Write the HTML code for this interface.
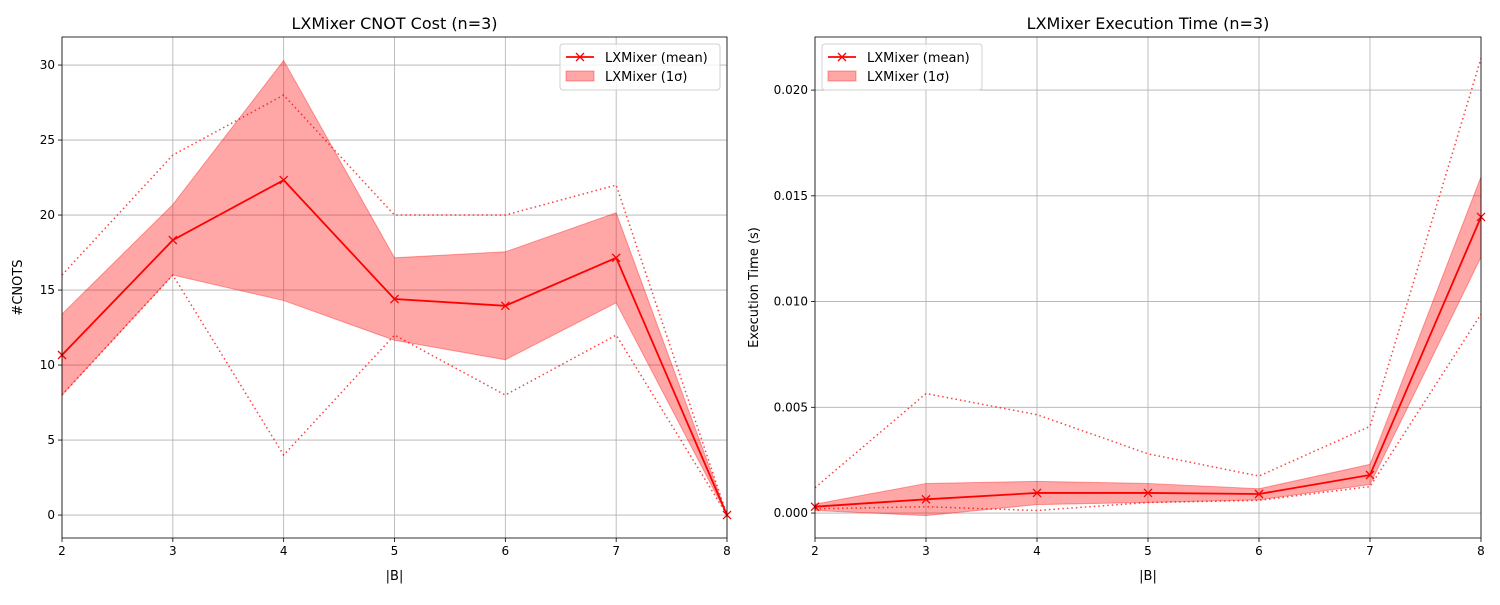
<!DOCTYPE html>
<html><head><meta charset="utf-8"><style>
body{margin:0;background:#fff;width:1500px;height:600px;overflow:hidden}
svg{font-family:"DejaVu Sans","Liberation Sans",sans-serif}
</style></head><body>
<svg id="c" width="1500" height="600"></svg>
<script>
const xCats=[2,3,4,5,6,7,8];
const cnotMean=[10.67,18.33,22.33,14.4,13.95,17.15,0];
const cnotMax=[16,24,28,20,20,22,0];
const cnotMin=[8,16,4,12,8,12,0];
const cnotHi=[13.4,20.7,30.3,17.15,17.55,20.15,0];
const cnotLo=[8,16,14.3,11.65,10.35,14.15,0];
const cnotTicks=[0,5,10,15,20,25,30];
const timeMean=[0.0003,0.00065,0.00095,0.00095,0.0009,0.0018,0.014];
const timeMax=[0.0012,0.00565,0.00465,0.0028,0.00175,0.0041,0.0215];
const timeMin=[0.0002,0.0003,0.00012,0.0005,0.0006,0.00125,0.0094];
const timeHi=[0.00042,0.0014,0.0015,0.0014,0.00115,0.0023,0.0159];
const timeLo=[0.00012,-0.00012,0.0004,0.0005,0.00062,0.00135,0.0121];
const timeTicks=[0,0.005,0.010,0.015,0.020];
const timeTickLabels=["0.000","0.005","0.010","0.015","0.020"];

const svg=document.getElementById('c');
const NS='http://www.w3.org/2000/svg';
function mk(tag,attrs,parent,text){const e=document.createElementNS(NS,tag);for(const k in attrs)e.setAttribute(k,attrs[k]);if(text!==undefined)e.textContent=text;(parent||svg).appendChild(e);return e;}

function panel(p){
  const g=mk('g',{});
  
  
  const X=v=>p.x0+(v-2)/6*(p.x1-p.x0);
  const Y=v=>p.yb-(v-p.ymin)/(p.ymax-p.ymin)*(p.yb-p.yt);
  xCats.forEach(v=>{const l=mk('line',{x1:X(v),x2:X(v),y1:p.yt,y2:p.yb,stroke:'#b0b0b0','stroke-width':0.8},g);
    
    mk('line',{x1:X(v),x2:X(v),y1:p.yb,y2:p.yb+4,stroke:'#000','stroke-width':0.8},g);
    const t=mk('text',{x:X(v),y:p.yb+17,'font-size':12,'text-anchor':'middle'},g,String(v));
    });
  p.ticks.forEach((v,i)=>{const l=mk('line',{x1:p.x0,x2:p.x1,y1:Y(v),y2:Y(v),stroke:'#b0b0b0','stroke-width':0.8},g);
    
    mk('line',{x1:p.x0-4,x2:p.x0,y1:Y(v),y2:Y(v),stroke:'#000','stroke-width':0.8},g);
    const t=mk('text',{x:p.x0-7,y:Y(v)+4,'font-size':12,'text-anchor':'end'},g,p.tickLabels[i]);
    });
  let d='M'+xCats.map((v,i)=>X(v)+','+Y(p.hi[i])).join('L')+'L'+xCats.slice().reverse().map((v,j)=>{const i=xCats.length-1-j;return X(v)+','+Y(p.lo[i]);}).join('L')+'Z';
  const band=mk('path',{d:d,fill:'#ff0000','fill-opacity':0.35,stroke:'#ff0000','stroke-opacity':0.35},g);
  
  [p.mx,p.mn].forEach((arr,k)=>{const l=mk('polyline',{points:xCats.map((v,i)=>X(v)+','+Y(arr[i])).join(' '),fill:'none',stroke:'#ff0000','stroke-opacity':0.75,'stroke-width':1.5,'stroke-dasharray':'1.5,3'},g);
    });
  const ml=mk('polyline',{points:xCats.map((v,i)=>X(v)+','+Y(p.mean[i])).join(' '),fill:'none',stroke:'#ff0000','stroke-width':1.8},g);
  
  xCats.forEach((v,i)=>{const cx=X(v),cy=Y(p.mean[i]);
    const m=mk('path',{d:`M${cx-4},${cy-4}L${cx+4},${cy+4}M${cx-4},${cy+4}L${cx+4},${cy-4}`,stroke:'#ff0000','stroke-width':1.3},g);
    });
  mk('rect',{x:p.x0,y:p.yt,width:p.x1-p.x0,height:p.yb-p.yt,fill:'none',stroke:'#000','stroke-width':0.8},g);
  const tt=mk('text',{x:(p.x0+p.x1)/2,y:p.yt-8,'font-size':16,'text-anchor':'middle'},g,p.title);
  
  const xl=mk('text',{x:(p.x0+p.x1)/2,y:p.yb+42,'font-size':13,'text-anchor':'middle'},g,'|B|');
  
  const yx=p.x0-p.ylOff;
  const yl=mk('text',{x:yx,y:(p.yt+p.yb)/2,'font-size':13,'text-anchor':'middle',transform:`rotate(-90 ${yx} ${(p.yt+p.yb)/2})`},g,p.ylabel);
  
  const lg=mk('g',{},g);
  
  const lx=p.legX,ly=p.yt+7;
  mk('rect',{x:lx,y:ly,width:160,height:46,rx:3,fill:'#fff','fill-opacity':0.8,stroke:'#d0d0d0'},lg);
  mk('line',{x1:lx+6,x2:lx+34,y1:ly+13,y2:ly+13,stroke:'#ff0000','stroke-width':1.8},lg);
  mk('path',{d:`M${lx+16},${ly+9}L${lx+24},${ly+17}M${lx+16},${ly+17}L${lx+24},${ly+9}`,stroke:'#ff0000','stroke-width':1.3},lg);
  const e1=mk('text',{x:lx+45,y:ly+18,'font-size':13},lg,'LXMixer (mean)');
  
  mk('rect',{x:lx+6,y:ly+27,width:28,height:10,fill:'#ff0000','fill-opacity':0.35,stroke:'#ff0000','stroke-opacity':0.35},lg);
  const e2=mk('text',{x:lx+45,y:ly+37,'font-size':13},lg,'LXMixer (1σ)');
  
}
panel({name:'cnot-cost-panel',x0:62,x1:727,yt:37,yb:538,ymin:-1.53,ymax:31.87,ticks:cnotTicks,tickLabels:cnotTicks.map(String),
  mean:cnotMean,mx:cnotMax,mn:cnotMin,hi:cnotHi,lo:cnotLo,title:'LXMixer CNOT Cost (n=3)',ylabel:'#CNOTS',ylOff:40,legX:560});
panel({name:'execution-time-panel',x0:815,x1:1481,yt:37,yb:538,ymin:-0.00118,ymax:0.02251,ticks:timeTicks,tickLabels:timeTickLabels,
  mean:timeMean,mx:timeMax,mn:timeMin,hi:timeHi,lo:timeLo,title:'LXMixer Execution Time (n=3)',ylabel:'Execution Time (s)',ylOff:57,legX:822});
</script>
</body></html>
